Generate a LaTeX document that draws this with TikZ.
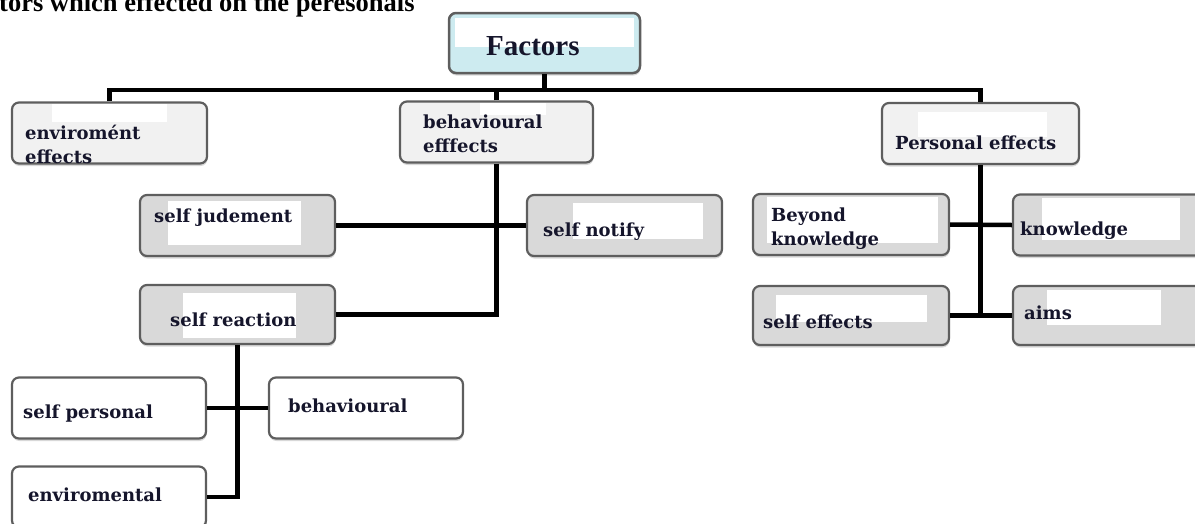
\documentclass[tikz,border=0pt]{standalone}
\usepackage{fontspec}
\setmainfont{DejaVu Serif}
\newfontfamily\titlefont{Liberation Serif}
\usepackage{tikz}
\usetikzlibrary{shadows}
\definecolor{ink}{HTML}{15152B}
\definecolor{frame}{HTML}{5E5E5E}
\definecolor{boxgray}{HTML}{D9D9D9}
\definecolor{boxlight}{HTML}{F1F1F1}
\definecolor{factorcyan}{HTML}{CDEBF0}

\begin{document}
\begin{tikzpicture}[x=1pt, y=-1pt,
    box/.style={rectangle, rounded corners=7pt, draw=frame, line width=2.2pt, inner sep=0pt,
        minimum width=195pt, minimum height=61pt,
        drop shadow={shadow xshift=0.5pt, shadow yshift=-2.5pt, fill=black!30}},
    wbox/.style={box, fill=white},
    lbox/.style={box, fill=boxlight},
    gbox/.style={box, fill=boxgray},
    patch/.style={fill=white},
    lbl/.style={anchor=base west, inner sep=0pt, align=left, text=ink,
        font=\fontsize{18}{24}\selectfont\bfseries},
    wire/.style={line width=4.5pt, draw=black}]
    \path[use as bounding box, clip] (0,0) rectangle (1195,523);

    \node[anchor=base west, inner sep=0pt, font=\titlefont\fontsize{26.5}{30}\selectfont\bfseries]
        at (-1, 11) (title) {tors which effected on the peresonals};

    % boxes
    \node[box, fill=factorcyan, line width=2.5pt, minimum width=191pt, minimum height=60pt] at (544.5, 43) (factors) {};
    \node[lbox] at (109.5, 133)   (envEff) {};
    \node[lbox, minimum width=193pt] at (496.5, 132)   (behEff) {};
    \node[lbox, minimum width=197pt] at (980.5, 133.5) (perEff) {};
    \node[gbox] at (237.5, 225.5) (sjud) {};
    \node[gbox] at (624.5, 225.5) (snot) {};
    \node[gbox, minimum width=196pt] at (851, 224.5)  (beyond) {};
    \node[gbox] at (1110.5, 225)  (know) {};
    \node[gbox, minimum height=59pt] at (237.5, 314.5) (sreact) {};
    \node[gbox, minimum height=59pt, minimum width=196pt] at (851, 315.5) (seff) {};
    \node[gbox, minimum height=59pt] at (1110.5, 315.5) (aims) {};
    \node[wbox, minimum width=194pt] at (109, 408) (spers) {};
    \node[wbox, minimum width=194pt] at (366, 408) (behav) {};
    \node[wbox, minimum width=194pt] at (109, 497) (envir) {};

    % white patches behind the texts
    \fill[patch] (455,18) rectangle (634,47);
    \fill[patch] (52,104) rectangle (167,122);
    \fill[patch] (480,103) rectangle (546,115);
    \fill[patch] (918,112) rectangle (1047,137);
    \fill[patch] (168,201) rectangle (301,245);
    \fill[patch] (573,203) rectangle (703,239);
    \fill[patch] (767,197) rectangle (938,243);
    \fill[patch] (1042,198) rectangle (1180,240);
    \fill[patch] (183,293) rectangle (296,338);
    \fill[patch] (776,295) rectangle (927,322);
    \fill[patch] (1047,290) rectangle (1161,325);

    % texts (base = last line)
    \node[anchor=base west, inner sep=0pt, text=ink, font=\titlefont\fontsize{29}{32}\selectfont\bfseries]
        at (486, 55) (factorsTxt) {Factors};
    \node[lbl] at (25, 163)   (envEffTxt) {enviromént\\effects};
    \node[lbl] at (423, 152)  (behEffTxt) {behavioural\\efffects};
    \node[lbl] at (895, 149)  (perEffTxt) {Personal effects};
    \node[lbl] at (154, 222)  (sjudTxt) {self judement};
    \node[lbl] at (543, 236)  (snotTxt) {self notify};
    \node[lbl] at (771, 245)  (beyondTxt) {Beyond\\knowledge};
    \node[lbl] at (1020, 235) (knowTxt) {knowledge};
    \node[lbl] at (170, 326)  (sreactTxt) {self reaction};
    \node[lbl] at (763, 328)  (seffTxt) {self effects};
    \node[lbl] at (1024, 319) (aimsTxt) {aims};
    \node[lbl] at (23, 418)   (spersTxt) {self personal};
    \node[lbl] at (288, 412)  (behavTxt) {behavioural};
    \node[lbl] at (28, 501)   (envirTxt) {enviromental};

    % connectors
    \coordinate (bus) at (0, 90);
    \draw [wire] (factors.south) -- (factors.south |- bus);
    \draw [wire] (envEff.north) |- (perEff.north |- bus) -- (perEff.north);
    \draw [wire] (behEff.north) -- (behEff.north |- bus);
    \draw [wire] (behEff.south) |- (sreact.east);
    \draw [wire] (sjud.east) -- (snot.west);
    \draw [wire] (sreact.south) |- (envir.east);
    \draw [wire] (spers.east) -- (behav.west);
    \draw [wire] (perEff.south) |- (aims.west);
    \draw [wire] (seff.east) -- (aims.west);
    \draw [wire] (beyond.east) -- (know.west);
\end{tikzpicture}
\end{document}
